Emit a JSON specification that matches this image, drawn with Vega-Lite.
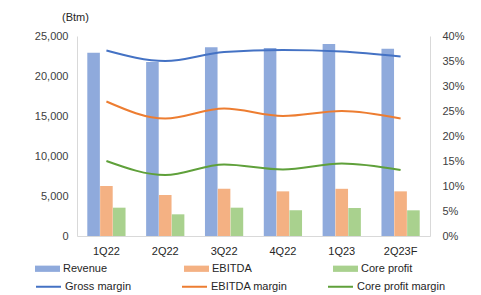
{
  "$schema": "https://vega.github.io/schema/vega-lite/v6.json",
  "width": 353,
  "height": 200,
  "autosize": "none",
  "padding": {"left": 77, "top": 36, "right": 51, "bottom": 59},
  "config": {
    "font": "Liberation Sans",
    "view": {"stroke": null},
    "axis": {"labelFont": "Liberation Sans", "labelFontSize": 11, "labelColor": "#404040", "domainColor": "#d9d9d9", "ticks": false, "grid": false},
    "legend": {"labelFont": "Liberation Sans", "labelFontSize": 11, "labelColor": "#262626"}
  },
  "datasets": {
    "bars": [
      {"q": "1Q22", "series": "Revenue", "value": 22900},
      {"q": "1Q22", "series": "EBITDA", "value": 6250},
      {"q": "1Q22", "series": "Core profit", "value": 3540},
      {"q": "2Q22", "series": "Revenue", "value": 21750},
      {"q": "2Q22", "series": "EBITDA", "value": 5125},
      {"q": "2Q22", "series": "Core profit", "value": 2710},
      {"q": "3Q22", "series": "Revenue", "value": 23600},
      {"q": "3Q22", "series": "EBITDA", "value": 5900},
      {"q": "3Q22", "series": "Core profit", "value": 3540},
      {"q": "4Q22", "series": "Revenue", "value": 23500},
      {"q": "4Q22", "series": "EBITDA", "value": 5580},
      {"q": "4Q22", "series": "Core profit", "value": 3210},
      {"q": "1Q23", "series": "Revenue", "value": 24000},
      {"q": "1Q23", "series": "EBITDA", "value": 5900},
      {"q": "1Q23", "series": "Core profit", "value": 3500},
      {"q": "2Q23F", "series": "Revenue", "value": 23400},
      {"q": "2Q23F", "series": "EBITDA", "value": 5580},
      {"q": "2Q23F", "series": "Core profit", "value": 3210}
    ],
    "lines": [
      {"q": "1Q22", "series": "Gross margin", "value": 0.371},
      {"q": "2Q22", "series": "Gross margin", "value": 0.350},
      {"q": "3Q22", "series": "Gross margin", "value": 0.368},
      {"q": "4Q22", "series": "Gross margin", "value": 0.372},
      {"q": "1Q23", "series": "Gross margin", "value": 0.369},
      {"q": "2Q23F", "series": "Gross margin", "value": 0.359},
      {"q": "1Q22", "series": "EBITDA margin", "value": 0.269},
      {"q": "2Q22", "series": "EBITDA margin", "value": 0.235},
      {"q": "3Q22", "series": "EBITDA margin", "value": 0.255},
      {"q": "4Q22", "series": "EBITDA margin", "value": 0.240},
      {"q": "1Q23", "series": "EBITDA margin", "value": 0.250},
      {"q": "2Q23F", "series": "EBITDA margin", "value": 0.235},
      {"q": "1Q22", "series": "Core profit margin", "value": 0.150},
      {"q": "2Q22", "series": "Core profit margin", "value": 0.122},
      {"q": "3Q22", "series": "Core profit margin", "value": 0.143},
      {"q": "4Q22", "series": "Core profit margin", "value": 0.133},
      {"q": "1Q23", "series": "Core profit margin", "value": 0.145},
      {"q": "2Q23F", "series": "Core profit margin", "value": 0.132}
    ]
  },
  "encoding": {
    "x": {
      "field": "q", "type": "nominal", "sort": null,
      "scale": {"paddingInner": 0.35, "paddingOuter": 0.175},
      "axis": {"title": null, "labelAngle": 0, "labelPadding": 9, "labelColor": "#262626"}
    }
  },
  "layer": [
    {
      "data": {"name": "bars"},
      "mark": {"type": "bar"},
      "encoding": {
        "xOffset": {"field": "series", "type": "nominal", "sort": ["Revenue", "EBITDA", "Core profit"], "scale": {"paddingInner": 0.02}},
        "y": {
          "field": "value", "type": "quantitative",
          "scale": {"domain": [0, 25000]},
          "axis": {"values": [0, 5000, 10000, 15000, 20000, 25000], "format": ",.0f", "labelPadding": 9,
            "title": "(Btm)", "titleAngle": 0, "titleAlign": "center", "titleBaseline": "middle", "titleX": -2, "titleY": -19,
            "titleFontSize": 11, "titleFontWeight": "normal", "titleColor": "#262626", "titleFont": "Liberation Sans"}
        },
        "color": {
          "field": "series", "type": "nominal",
          "scale": {"domain": ["Revenue", "EBITDA", "Core profit"], "range": ["#8FAADC", "#F4B183", "#A9D18E"]},
          "legend": {"title": null, "orient": "none", "legendX": -42, "legendY": 220, "columns": 3, "gridAlign": "all",
            "columnPadding": 69, "symbolType": "M-1,-0.25H1V0.25H-1Z", "symbolSize": 625, "symbolStrokeWidth": 0, "labelOffset": 3}
        }
      }
    },
    {
      "data": {"name": "lines"},
      "mark": {"type": "line", "interpolate": "monotone", "strokeWidth": 2},
      "encoding": {
        "y": {
          "field": "value", "type": "quantitative",
          "scale": {"domain": [0, 0.4]},
          "axis": {"orient": "right", "values": [0, 0.05, 0.1, 0.15, 0.2, 0.25, 0.3, 0.35, 0.4], "format": ".0%", "labelPadding": 12, "title": null}
        },
        "stroke": {
          "field": "series", "type": "nominal",
          "scale": {"domain": ["Gross margin", "EBITDA margin", "Core profit margin"], "range": ["#4472C4", "#ED7D31", "#5FA03A"]},
          "legend": {"title": null, "orient": "none", "legendX": -42, "legendY": 237, "columns": 3, "gridAlign": "all",
            "columnPadding": 24, "symbolType": "stroke", "symbolSize": 625, "symbolStrokeWidth": 2, "labelOffset": 3}
        }
      }
    }
  ],
  "resolve": {"scale": {"y": "independent", "color": "independent", "stroke": "independent"}}
}
